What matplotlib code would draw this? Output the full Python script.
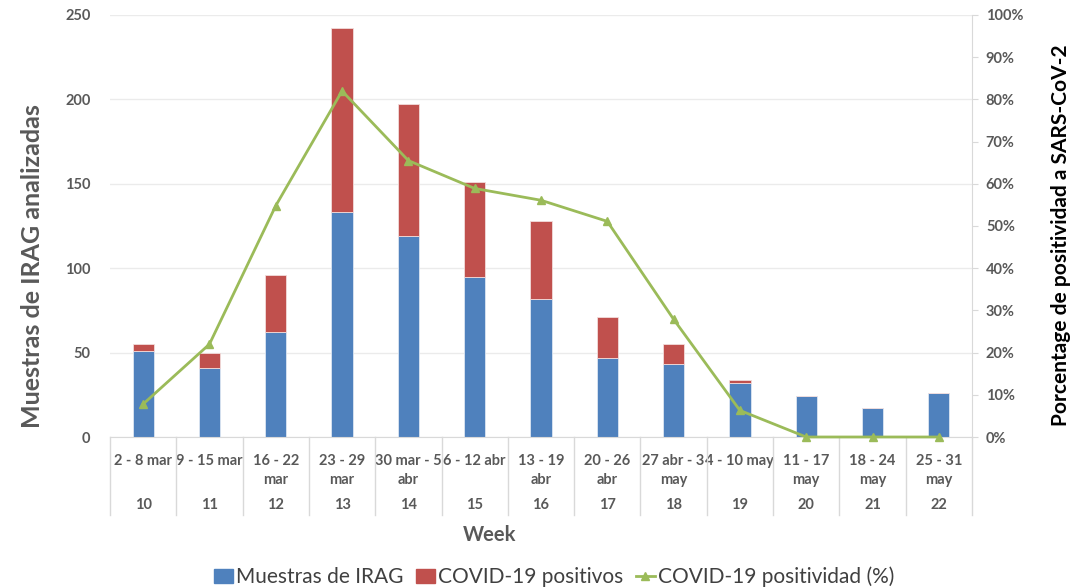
import numpy as np
import matplotlib
matplotlib.use("Agg")
import matplotlib.pyplot as plt
from matplotlib.ticker import PercentFormatter
from matplotlib.patches import Patch
from matplotlib.lines import Line2D

# weekly IRAG samples, split into negative / COVID-19 positive, plus positivity %
weeks = ["10", "11", "12", "13", "14", "15", "16", "17", "18", "19", "20", "21", "22"]
date_ranges = ["2 - 8 mar", "9 - 15 mar", "16 - 22\nmar", "23 - 29\nmar", "30 mar - 5\nabr",
               "6 - 12 abr", "13 - 19\nabr", "20 - 26\nabr", "27 abr - 3\nmay", "4 - 10 may",
               "11 - 17\nmay", "18 - 24\nmay", "25 - 31\nmay"]
muestras = [51, 41, 62, 133, 119, 95, 82, 47, 43, 32, 24, 17, 26]
positivos = [4, 9, 34, 109, 78, 56, 46, 24, 12, 2, 0, 0, 0]
positividad = [7.8, 22.0, 54.8, 82.0, 65.5, 58.9, 56.1, 51.1, 27.9, 6.3, 0, 0, 0]

BLUE = "#4F81BD"
RED = "#C0504D"
GREEN = "#9BBB59"
GREY = "#595959"
LIGHT = "#D9D9D9"

plt.rcParams["font.family"] = ["Lato", "DejaVu Sans"]

fig = plt.figure(figsize=(10.74, 5.88), dpi=100)
ax = fig.add_axes([0.1024, 0.2568, 0.8026, 0.7177])
x = np.arange(len(weeks))

ax.bar(x, muestras, width=0.32, color=BLUE, edgecolor="#DCE6F2", linewidth=0.6, zorder=2)
ax.bar(x, positivos, bottom=muestras, width=0.32, color=RED, edgecolor="#F2DCDB", linewidth=0.6, zorder=2)

ax.set_xlim(-0.5, len(weeks) - 0.5)
ax.set_ylim(0, 250)
ax.set_yticks([0, 50, 100, 150, 200, 250])
ax.yaxis.grid(True, color="#EBEBEB", linewidth=1, zorder=0)
ax.set_axisbelow(True)
for s in ["left", "top", "right"]:
    ax.spines[s].set_visible(False)
ax.spines["bottom"].set_color(LIGHT)
ax.tick_params(axis="y", length=0, pad=14, labelsize=10.5, labelcolor=GREY)
for t in ax.get_yticklabels():
    t.set_fontweight("bold")

# category table under the axis: dates, week numbers and dividers
ax.set_xticks(x)
ax.set_xticklabels(date_ranges, fontsize=10.5, fontweight="bold", color=GREY,
                   va="top", linespacing=1.45)
ax.tick_params(axis="x", length=0, pad=12)
trans = ax.get_xaxis_transform()
for i, w in enumerate(weeks):
    ax.text(i, -0.162, w, transform=trans, ha="center", va="center",
            fontsize=10.5, fontweight="bold", color=GREY)
for b in np.arange(-0.5, len(weeks), 1.0):
    ax.plot([b, b], [0, -0.185], transform=trans, color=LIGHT, linewidth=1, clip_on=False)

ax.set_ylabel("Muestras de IRAG analizadas", fontsize=18, fontweight="bold", color=GREY)
ax.yaxis.set_label_coords(-0.076, 0.405)
fig.text(0.456, 0.090, "Week", ha="center", va="center", fontsize=14.5, fontweight="bold", color=GREY)

ax2 = ax.twinx()
ax2.plot(x, positividad, color=GREEN, linewidth=2, marker="^", markersize=6, zorder=3, clip_on=False)
ax2.set_ylim(0, 100)
ax2.set_yticks(np.arange(0, 101, 10))
ax2.yaxis.set_major_formatter(PercentFormatter(decimals=0))
for s in ["left", "top", "bottom"]:
    ax2.spines[s].set_visible(False)
ax2.spines["right"].set_color(LIGHT)
ax2.tick_params(axis="y", length=4, color=LIGHT, pad=6, labelsize=10.5, labelcolor=GREY)
for t in ax2.get_yticklabels():
    t.set_fontweight("bold")
ax2.set_ylabel("Porcentage de positividad a SARS-CoV-2", fontsize=15, fontweight="bold",
               color="black")
ax2.yaxis.set_label_coords(1.092, 0.479)

handles = [Patch(color=BLUE), Patch(color=RED),
           Line2D([0], [0], color=GREEN, linewidth=2, marker="^", markersize=6)]
labels = ["Muestras de IRAG", "COVID-19 positivos", "COVID-19 positividad (%)"]
fig.legend(handles, labels, loc="center", bbox_to_anchor=(0.516, 0.019), ncol=3, frameon=False,
           fontsize=15, handlelength=0.9, handletextpad=0.15, columnspacing=0.6,
           labelcolor="#404040")

fig.savefig("out.png", dpi=100)
